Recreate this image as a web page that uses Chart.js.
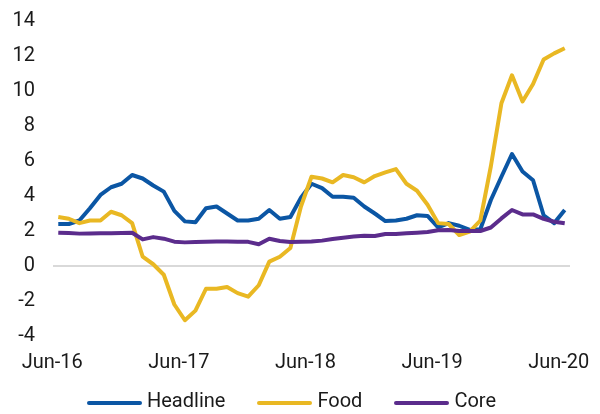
<!DOCTYPE html>
<html>
<head>
<meta charset="utf-8">
<script src="https://cdn.jsdelivr.net/npm/chart.js@4/dist/chart.umd.min.js"></script>
<style>
  html, body { margin: 0; padding: 0; background: #fff; }
  .chart-container { position: relative; width: 600px; height: 414px; }
  .legend {
    position: absolute; left: 87px; top: 388px; height: 24px;
    display: flex; align-items: center;
    font-family: Roboto, sans-serif; font-size: 20px; line-height: 24px; color: #1a1a1a;
  }
  .legend-item { display: flex; align-items: center; margin-right: 32px; }
  .legend-swatch { width: 55px; height: 4px; border-radius: 2px; margin-right: 5px; margin-top: 6px; }
</style>
</head>
<body>
<div class="chart-container">
  <canvas id="chart"></canvas>
  <div class="legend" id="legend"></div>
</div>
<script>
// 월별 물가상승률 (%), Jun-16 ~ Jun-20
const labels = [
  'Jun-16', 'Jul-16', 'Aug-16', 'Sep-16', 'Oct-16', 'Nov-16', 'Dec-16',
  'Jan-17', 'Feb-17', 'Mar-17', 'Apr-17', 'May-17', 'Jun-17', 'Jul-17', 'Aug-17', 'Sep-17', 'Oct-17', 'Nov-17', 'Dec-17',
  'Jan-18', 'Feb-18', 'Mar-18', 'Apr-18', 'May-18', 'Jun-18', 'Jul-18', 'Aug-18', 'Sep-18', 'Oct-18', 'Nov-18', 'Dec-18',
  'Jan-19', 'Feb-19', 'Mar-19', 'Apr-19', 'May-19', 'Jun-19', 'Jul-19', 'Aug-19', 'Sep-19', 'Oct-19', 'Nov-19', 'Dec-19',
  'Jan-20', 'Feb-20', 'Mar-20', 'Apr-20', 'May-20', 'Jun-20',
];

const headline = [
  2.4, 2.4, 2.6, 3.3, 4.06, 4.5, 4.7, 5.2, 5.0, 4.6, 4.25, 3.15,
  2.55, 2.5, 3.3, 3.4, 3.0, 2.6, 2.6, 2.7, 3.2, 2.7, 2.8, 3.9,
  4.7, 4.45, 3.96, 3.96, 3.9, 3.4, 3.0, 2.57, 2.6, 2.7, 2.9, 2.86,
  2.2, 2.45, 2.3, 2.06, 2.1, 3.77, 5.1, 6.4, 5.4, 4.9, 2.9, 2.45, 3.2,
];
const food = [
  2.8, 2.7, 2.45, 2.6, 2.6, 3.1, 2.9, 2.45, 0.53, 0.1, -0.5, -2.2,
  -3.1, -2.55, -1.3, -1.3, -1.2, -1.55, -1.75, -1.1, 0.25, 0.53, 1.03, 3.4,
  5.1, 5.0, 4.78, 5.2, 5.07, 4.78, 5.14, 5.35, 5.54, 4.7, 4.3, 3.5,
  2.45, 2.4, 1.77, 1.96, 2.6, 5.7, 9.3, 10.9, 9.4, 10.4, 11.8, 12.15, 12.44,
];
const core = [
  1.9, 1.88, 1.85, 1.86, 1.87, 1.87, 1.88, 1.9, 1.52, 1.65, 1.56, 1.39,
  1.35, 1.37, 1.39, 1.4, 1.4, 1.38, 1.38, 1.24, 1.56, 1.43, 1.37, 1.39,
  1.4, 1.45, 1.54, 1.62, 1.68, 1.73, 1.71, 1.83, 1.83, 1.87, 1.9, 1.94,
  2.04, 2.06, 2.0, 2.0, 2.0, 2.2, 2.72, 3.2, 2.95, 2.95, 2.69, 2.53, 2.44,
];

const yTicks = [-4, -2, 0, 2, 4, 6, 8, 10, 12, 14];

const series = [
  { label: 'Headline', data: headline, color: '#0b56a4', order: 3 },
  { label: 'Food', data: food, color: '#e9b823', order: 2 },
  { label: 'Core', data: core, color: '#5b2c8c', order: 1 },
];

Chart.defaults.font.family = 'Roboto, sans-serif';
Chart.defaults.font.size = 20;
Chart.defaults.color = '#1a1a1a';

const ctx = document.getElementById('chart').getContext('2d');
const chart = new Chart(ctx, {
  type: 'line',
  data: {
    labels: labels,
    datasets: series.map((s) => ({
      label: s.label,
      data: s.data,
      order: s.order,
      borderColor: s.color,
      backgroundColor: s.color,
      borderWidth: 4,
      borderJoinStyle: 'round',
      pointRadius: 0,
      tension: 0,
    })),
  },
  options: {
    responsive: true,
    maintainAspectRatio: false,
    animation: false,
    layout: { padding: { left: 12, right: 30, top: 21, bottom: 41 } },
    plugins: {
      legend: { display: false },
      tooltip: { enabled: false },
    },
    scales: {
      x: {
        type: 'category',
        offset: true,
        grid: { display: false, drawTicks: false },
        border: { display: false },
        ticks: {
          autoSkip: false,
          maxRotation: 0,
          padding: 15,
          labelOffset: -6,
          callback: (value, index) => (index % 12 === 0 ? labels[index] : ''),
        },
        // 축 크기를 고정해서 플롯 영역 위치를 맞춤
        afterFit: (axis) => {
          axis.height = 37;
          axis.paddingLeft = 0;
          axis.paddingRight = 0;
        },
      },
      y: {
        min: -4,
        max: 14,
        afterBuildTicks: (axis) => {
          axis.ticks = yTicks.map((v) => ({ value: v }));
        },
        afterFit: (axis) => {
          axis.width = 41;
          axis.paddingTop = 0;
          axis.paddingBottom = 0;
        },
        grid: {
          drawTicks: false,
          lineWidth: 2,
          color: (c) => (c.tick && c.tick.value === 0 ? '#d9d9d9' : 'rgba(0,0,0,0)'),
        },
        border: { display: false },
        ticks: { padding: 18 },
      },
    },
  },
});

// 범례 (시리즈 순서대로)
const legendEl = document.getElementById('legend');
series.forEach((s) => {
  const item = document.createElement('div');
  item.className = 'legend-item';
  const swatch = document.createElement('span');
  swatch.className = 'legend-swatch';
  swatch.style.background = s.color;
  const text = document.createElement('span');
  text.textContent = s.label;
  item.appendChild(swatch);
  item.appendChild(text);
  legendEl.appendChild(item);
});
</script>
</body>
</html>
